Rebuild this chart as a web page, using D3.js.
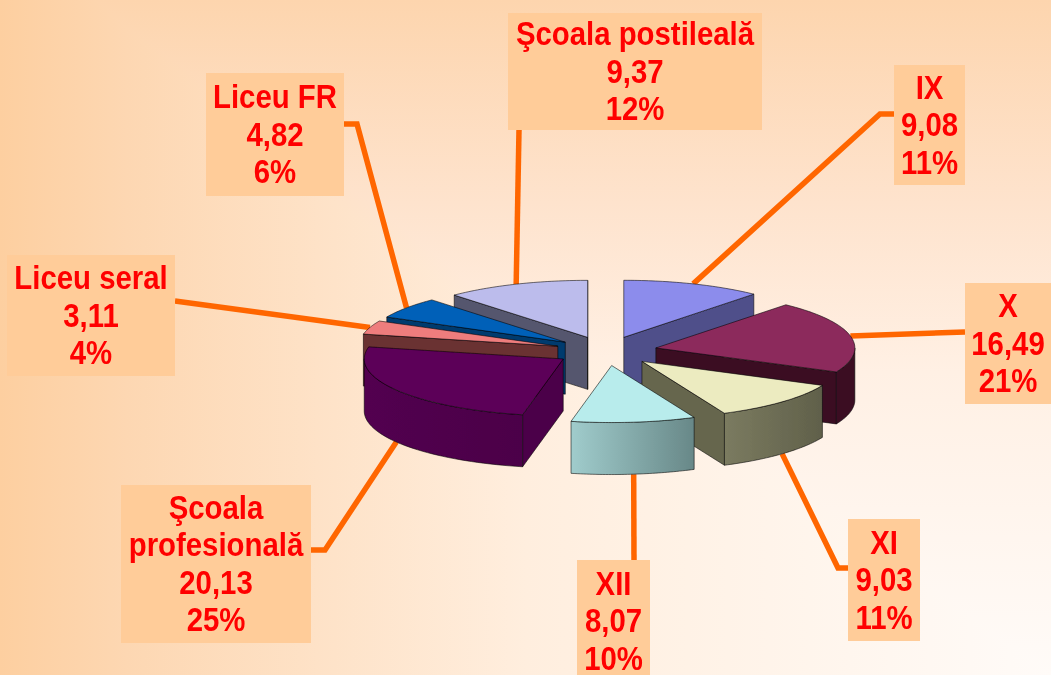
<!DOCTYPE html>
<html>
<head>
<meta charset="utf-8">
<style>
    html, body { margin: 0; padding: 0; overflow: hidden; }
    svg { display: block; }
    text { font-family: "Liberation Sans", Arial, sans-serif; font-weight: bold; fill: #ff0000; }
</style>
</head>
<body>
<svg width="1051" height="675"></svg>
<script src="https://d3js.org/d3.v7.min.js"></script>
<script>
    // data, clockwise from 12 o'clock
    var categories = ["IX", "X", "XI", "XII", "Şcoala profesională", "Liceu seral", "Liceu FR", "Şcoala postileală"];
    var values = [9.08, 16.49, 9.03, 8.07, 20.13, 3.11, 4.82, 9.37];
    var valueLabels = ["9,08", "16,49", "9,03", "8,07", "20,13", "3,11", "4,82", "9,37"];
    var percentLabels = ["11%", "21%", "11%", "10%", "25%", "4%", "6%", "12%"];
    var labelLines = [["IX"], ["X"], ["XI"], ["XII"], ["Şcoala", "profesională"], ["Liceu seral"], ["Liceu FR"], ["Şcoala postileală"]];

    // styling, same order as the categories
    var topColors = ["#8c8cec", "#8c2b5c", "#ecebc0", "#b8ecec", "#5c0058", "#ee7d7d", "#0060b8", "#bcbcec"];
    var wallColors = ["#50508a", "#3b1024", "#66664e", "#6e8e8e", "#4c0048", "#6a3030", "#003a6e", "#55566e"];
    var rimColors = [["#50508a", "#50508a"], ["#3b1024", "#3b1024"], ["#7b7b60", "#60604a"], ["#a0cccc", "#688888"],
        ["#520050", "#4c0048"], ["#6a3030", "#6a3030"], ["#003a6e", "#003a6e"], ["#55566e", "#55566e"]];

    // label boxes [left, top, right, bottom] and the elbow of each leader line
    var boxes = [[894, 65, 965, 185], [965, 283, 1051, 404], [848, 519, 920, 641], [577, 560, 650, 682],
        [121, 485, 311, 643], [7, 255, 175, 376], [206, 73, 344, 196], [508, 13, 762, 130]];
    var leaderEnds = [[[880, 114], [894, 114]], [[965, 332]], [[838, 568], [848, 568]], [[634, 560]],
        [[325, 550], [311, 550]], [[175, 301]], [[357, 124], [344, 124]], [[519, 130]]];

    var WIDTH = 1051, HEIGHT = 675,
        CX = 606, CY = 351,
        RADIUS = 199, TILT = 0.2865,
        EXPLODE = 51, DEPTH = 52,
        LINE_HEIGHT = 37.5, FONT_SIZE = 33, SQUEEZE = 0.89;

    var svg = d3.select("svg");
    var defs = svg.append("defs");

    // the background fades out of the bottom right corner: a sideways and an
    // upright fade, with the darker of the two winning
    function fade(id, x2, y2, stops) {
        var g = defs.append("linearGradient")
            .attr("id", id)
            .attr("x1", 0).attr("y1", 0)
            .attr("x2", x2).attr("y2", y2);
        stops.forEach(function (s) {
            g.append("stop").attr("offset", s[0]).attr("stop-color", s[1]);
        });
    }
    fade("bgX", 1, 0, [["0%", "#fdcfa0"], ["12%", "#fdd7b2"], ["50%", "#ffeede"], ["100%", "#fffbf8"]]);
    fade("bgY", 0, 1, [["0%", "#fdd5ae"], ["30%", "#fee3cd"], ["55%", "#fff0e4"], ["100%", "#fffbf8"]]);

    defs.append("filter").attr("id", "soft")
        .append("feGaussianBlur").attr("stdDeviation", 0.6);

    svg.append("rect")
        .attr("width", WIDTH)
        .attr("height", HEIGHT)
        .attr("fill", "url(#bgX)");
    svg.append("rect")
        .attr("width", WIDTH)
        .attr("height", HEIGHT)
        .attr("fill", "url(#bgY)")
        .style("mix-blend-mode", "darken");

    var pie = d3.pie().sort(null).startAngle(0).endAngle(2 * Math.PI);
    var slices = pie(values).map(function (d, i) {
        var mid = (d.startAngle + d.endAngle) / 2;
        return {
            i: i,
            start: d.startAngle,
            end: d.endAngle,
            mid: mid,
            apexX: CX + EXPLODE * Math.sin(mid),
            apexY: CY - EXPLODE * TILT * Math.cos(mid)
        };
    });

    // angle on the rim of a slice -> screen position
    function rim(s, a, drop) {
        return [s.apexX + RADIUS * Math.sin(a), s.apexY - RADIUS * TILT * Math.cos(a) + (drop || 0)];
    }

    function arcPoints(s, a0, a1, drop) {
        return d3.range(0, 41).map(function (k) {
            return rim(s, a0 + (a1 - a0) * k / 40, drop);
        });
    }

    var line = d3.line();
    var chart = svg.append("g").attr("filter", "url(#soft)");

    // leader lines go under the pie
    chart.selectAll("path.leader")
        .data(slices)
        .enter()
        .append("path")
        .attr("class", "leader")
        .attr("fill", "none")
        .attr("stroke", "#ff6600")
        .attr("stroke-width", 5.5)
        .attr("d", function (s) {
            var front = Math.cos(s.mid) < 0;
            return line([rim(s, s.mid, front ? DEPTH : 0)].concat(leaderEnds[s.i]));
        });

    // back to front
    var order = slices.slice().sort(function (a, b) {
        return Math.cos(b.mid) - Math.cos(a.mid);
    });

    order.forEach(function (s) {
        var g = chart.append("g")
            .attr("stroke", "#000")
            .attr("stroke-opacity", 0.55)
            .attr("stroke-width", 1)
            .attr("stroke-linejoin", "round");
        var apex = [s.apexX, s.apexY],
            apexLow = [s.apexX, s.apexY + DEPTH];

        // cut faces, only those turned to the viewer
        if (Math.sin(s.start) < 0) {
            g.append("path")
                .attr("fill", wallColors[s.i])
                .attr("d", line([apex, rim(s, s.start), rim(s, s.start, DEPTH), apexLow]) + "Z");
        }
        if (Math.sin(s.end) > 0) {
            g.append("path")
                .attr("fill", wallColors[s.i])
                .attr("d", line([apex, rim(s, s.end), rim(s, s.end, DEPTH), apexLow]) + "Z");
        }

        // round outer wall, front half only
        var a0 = Math.max(s.start, Math.PI / 2),
            a1 = Math.min(s.end, 3 * Math.PI / 2);
        if (a1 > a0) {
            var id = "rim" + s.i;
            var grad = defs.append("linearGradient")
                .attr("id", id)
                .attr("gradientUnits", "userSpaceOnUse")
                .attr("x1", rim(s, a1)[0]).attr("x2", rim(s, a0)[0])
                .attr("y1", 0).attr("y2", 0);
            grad.append("stop").attr("offset", "0%").attr("stop-color", rimColors[s.i][0]);
            grad.append("stop").attr("offset", "100%").attr("stop-color", rimColors[s.i][1]);
            g.append("path")
                .attr("fill", "url(#" + id + ")")
                .attr("d", line(arcPoints(s, a0, a1).concat(arcPoints(s, a1, a0, DEPTH))) + "Z");
        }

        g.append("path")
            .attr("fill", topColors[s.i])
            .attr("d", line([apex].concat(arcPoints(s, s.start, s.end))) + "Z");
    });

    // label boxes
    var labels = chart.selectAll("g.label")
        .data(slices)
        .enter()
        .append("g")
        .attr("class", "label");

    labels.append("rect")
        .attr("x", function (s) { return boxes[s.i][0]; })
        .attr("y", function (s) { return boxes[s.i][1]; })
        .attr("width", function (s) { return boxes[s.i][2] - boxes[s.i][0]; })
        .attr("height", function (s) { return boxes[s.i][3] - boxes[s.i][1]; })
        .attr("fill", "#ffcc99");

    labels.each(function (s) {
        var rows = labelLines[s.i].concat([valueLabels[s.i], percentLabels[s.i]]),
            b = boxes[s.i],
            midX = (b[0] + b[2]) / 2,
            midY = (b[1] + b[3]) / 2;
        d3.select(this).selectAll("text")
            .data(rows)
            .enter()
            .append("text")
            .attr("text-anchor", "middle")
            .attr("font-size", FONT_SIZE)
            .attr("transform", function (d, k) {
                var y = midY + (k - (rows.length - 1) / 2) * LINE_HEIGHT + 11;
                return "translate(" + midX + "," + y + ") scale(" + SQUEEZE + ",1)";
            })
            .text(function (d) { return d; });
    });
</script>
</body>
</html>
